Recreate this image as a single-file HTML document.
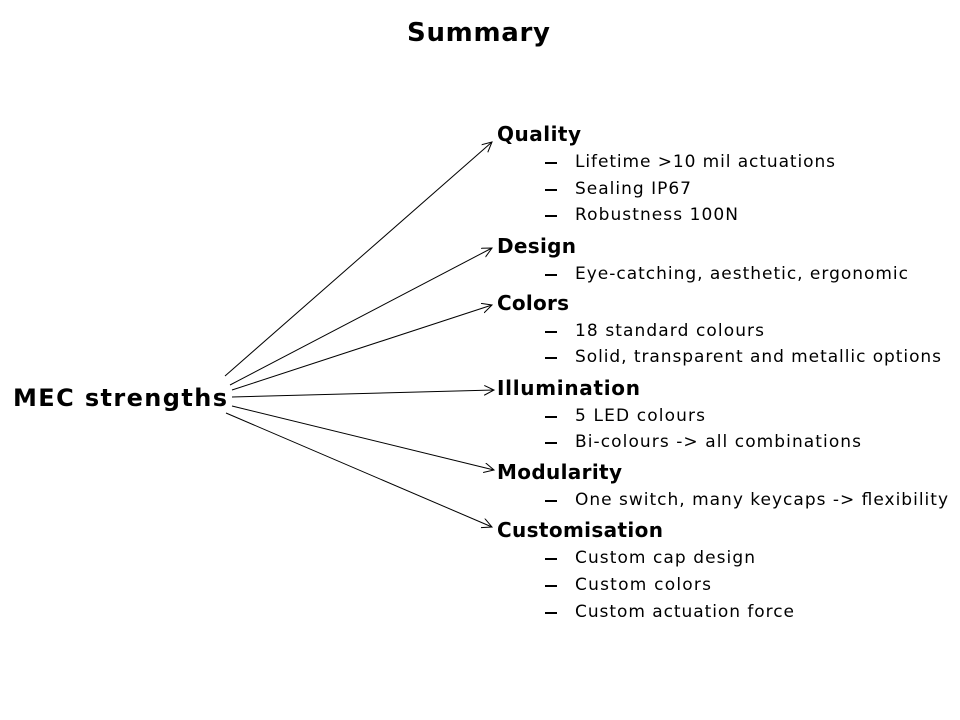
<!DOCTYPE html>
<html><head><meta charset="utf-8"><style>
html,body{margin:0;padding:0;background:#fff;width:960px;height:720px;overflow:hidden}
svg{display:block}
text{font-family:"DejaVu Sans","Liberation Sans",sans-serif;fill:#000;dominant-baseline:central}
.h{font-weight:bold;font-size:20px}
.i{font-size:17px}
</style></head><body>
<svg width="960" height="720" viewBox="0 0 960 720" xmlns="http://www.w3.org/2000/svg">
<defs><marker id="a" markerWidth="12" markerHeight="12" refX="10" refY="5" orient="auto" markerUnits="userSpaceOnUse"><path d="M0,0 L10,5 L0,10" fill="none" stroke="#000" stroke-width="1"/></marker></defs>
<text x="407" y="33" style="font-weight:bold;font-size:26px" textLength="143">Summary</text>
<text x="13" y="398" style="font-weight:bold;font-size:24px" textLength="214">MEC strengths</text>
<g stroke="#000" stroke-width="1" marker-end="url(#a)">
<line x1="225" y1="376" x2="492" y2="142"/>
<line x1="230" y1="385" x2="492" y2="248"/>
<line x1="232" y1="390" x2="492" y2="305"/>
<line x1="232" y1="397" x2="494" y2="390"/>
<line x1="232" y1="406" x2="494" y2="470"/>
<line x1="226" y1="413" x2="492" y2="527"/>
</g>
<g class="h">
<text x="497" y="134" textLength="84">Quality</text>
<text x="497" y="246" textLength="79">Design</text>
<text x="497" y="303" textLength="72">Colors</text>
<text x="497" y="388" textLength="143">Illumination</text>
<text x="497" y="472" textLength="125">Modularity</text>
<text x="497" y="530" textLength="166">Customisation</text>
</g>
<g fill="#000">
<rect x="545" y="162" width="12" height="2"/>
<rect x="545" y="189" width="12" height="2"/>
<rect x="545" y="215" width="12" height="2"/>
<rect x="545" y="274" width="12" height="2"/>
<rect x="545" y="331" width="12" height="2"/>
<rect x="545" y="357" width="12" height="2"/>
<rect x="545" y="416" width="12" height="2"/>
<rect x="545" y="442" width="12" height="2"/>
<rect x="545" y="500" width="12" height="2"/>
<rect x="545" y="558" width="12" height="2"/>
<rect x="545" y="585" width="12" height="2"/>
<rect x="545" y="612" width="12" height="2"/>
</g>
<g class="i">
<text x="575" y="162" textLength="260">Lifetime &gt;10 mil actuations</text>
<text x="575" y="189" textLength="116">Sealing IP67</text>
<text x="575" y="215" textLength="163">Robustness 100N</text>
<text x="575" y="274" textLength="333">Eye-catching, aesthetic, ergonomic</text>
<text x="575" y="331" textLength="189">18 standard colours</text>
<text x="575" y="357" textLength="366">Solid, transparent and metallic options</text>
<text x="575" y="416" textLength="130">5 LED colours</text>
<text x="575" y="442" textLength="286">Bi-colours -&gt; all combinations</text>
<text x="575" y="500" textLength="373">One switch, many keycaps -&gt; flexibility</text>
<text x="575" y="558" textLength="180">Custom cap design</text>
<text x="575" y="585" textLength="136">Custom colors</text>
<text x="575" y="612" textLength="219">Custom actuation force</text>
</g>
</svg>
</body></html>
